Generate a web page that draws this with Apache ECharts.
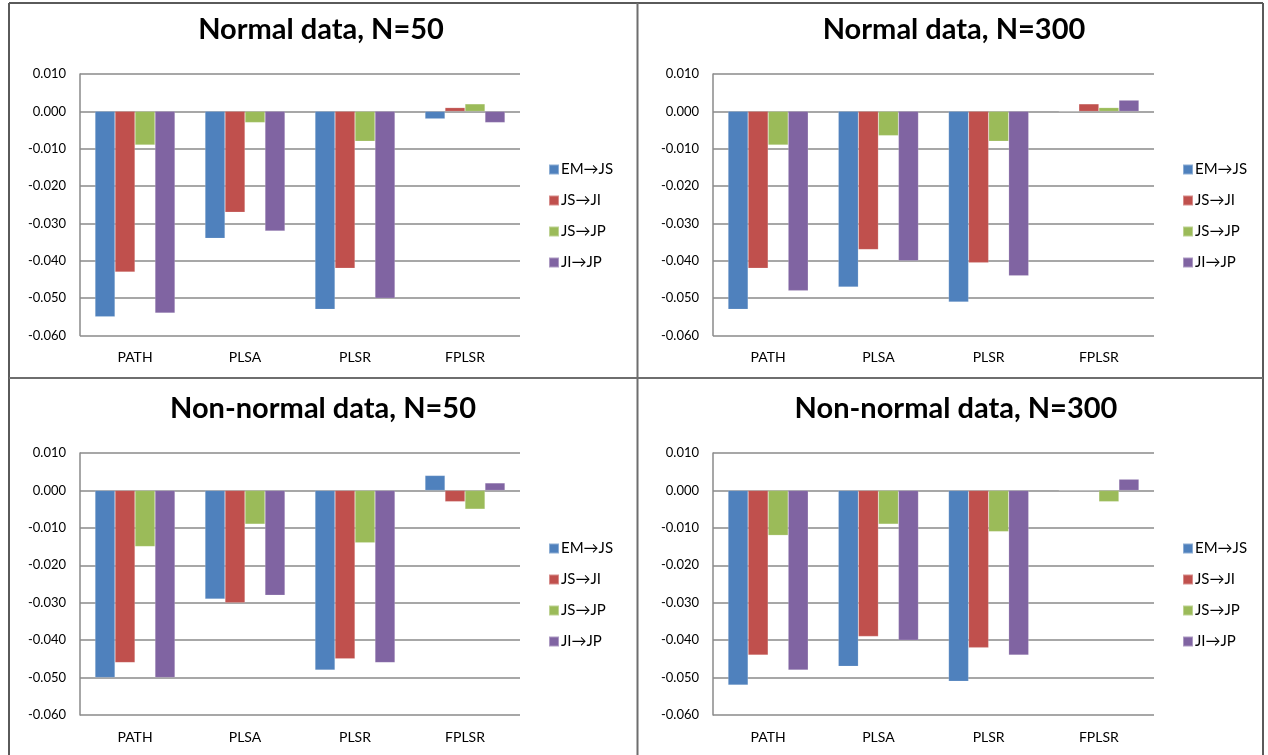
<!DOCTYPE html>
<html>
<head>
<meta charset="utf-8">
<script src="https://cdn.jsdelivr.net/npm/echarts@6/dist/echarts.min.js"></script>
<style>
html,body{margin:0;padding:0;background:#fff;}
#chart{width:1268px;height:755px;}
</style>
</head>
<body>
<div id="chart"></div>
<script>
// ---- data ----
const categories = ['PATH', 'PLSA', 'PLSR', 'FPLSR'];
const seriesNames = ['EM\u2192JS', 'JS\u2192JI', 'JS\u2192JP', 'JI\u2192JP'];
const panelTitles = ['Normal data, N=50', 'Normal data, N=300', 'Non-normal data, N=50', 'Non-normal data, N=300'];
const yTicks = [-0.060, -0.050, -0.040, -0.030, -0.020, -0.010, 0.000, 0.010];

// Normal data, N=50
const normal50_EM_JS = [-0.055, -0.034, -0.053, -0.002];
const normal50_JS_JI = [-0.043, -0.027, -0.042, 0.001];
const normal50_JS_JP = [-0.009, -0.003, -0.008, 0.002];
const normal50_JI_JP = [-0.054, -0.032, -0.050, -0.003];

// Normal data, N=300
const normal300_EM_JS = [-0.053, -0.047, -0.051, 0.000];
const normal300_JS_JI = [-0.042, -0.037, -0.0405, 0.002];
const normal300_JS_JP = [-0.009, -0.0065, -0.008, 0.001];
const normal300_JI_JP = [-0.048, -0.040, -0.044, 0.003];

// Non-normal data, N=50
const nonnormal50_EM_JS = [-0.050, -0.029, -0.048, 0.004];
const nonnormal50_JS_JI = [-0.046, -0.030, -0.045, -0.003];
const nonnormal50_JS_JP = [-0.015, -0.009, -0.014, -0.005];
const nonnormal50_JI_JP = [-0.050, -0.028, -0.046, 0.002];

// Non-normal data, N=300
const nonnormal300_EM_JS = [-0.052, -0.047, -0.051, 0.000];
const nonnormal300_JS_JI = [-0.044, -0.039, -0.042, 0.000];
const nonnormal300_JS_JP = [-0.012, -0.009, -0.011, -0.003];
const nonnormal300_JI_JP = [-0.048, -0.040, -0.044, 0.003];

const panelData = [
  [normal50_EM_JS, normal50_JS_JI, normal50_JS_JP, normal50_JI_JP],
  [normal300_EM_JS, normal300_JS_JI, normal300_JS_JP, normal300_JI_JP],
  [nonnormal50_EM_JS, nonnormal50_JS_JI, nonnormal50_JS_JP, nonnormal50_JI_JP],
  [nonnormal300_EM_JS, nonnormal300_JS_JI, nonnormal300_JS_JP, nonnormal300_JI_JP]
];

// ---- layout / style ----
const colors = ['#4F81BD', '#C0504D', '#9BBB59', '#8064A2'];
const FONT = 'Lato, "Liberation Sans", sans-serif';
const gridBoxes = [
  {left: 80, top: 74, width: 440, height: 261.5},
  {left: 713, top: 74, width: 441, height: 261.5},
  {left: 80, top: 453, width: 440, height: 262},
  {left: 713, top: 453, width: 441, height: 262}
];
const titlePos = [{x: 321, y: 15}, {x: 954, y: 15}, {x: 323, y: 394}, {x: 956, y: 394}];
const legendPos = [{x: 548, y: 161}, {x: 1182, y: 161}, {x: 548, y: 540}, {x: 1182, y: 540}];
const gridColor = '#8a8a8a';
const textColor = '#000000';

const yMin = yTicks[0], yMax = yTicks[yTicks.length - 1];

const option = {
  animation: false,
  backgroundColor: '#ffffff',
  color: colors,
  title: panelTitles.map((t, i) => ({
    text: t,
    left: titlePos[i].x,
    top: titlePos[i].y,
    textAlign: 'center',
    padding: 0,
    textStyle: {fontFamily: FONT, fontWeight: 'bold', fontSize: 29, color: '#000'}
  })),
  legend: legendPos.map(p => ({
    data: seriesNames,
    orient: 'vertical',
    left: p.x,
    top: p.y,
    padding: 0,
    itemWidth: 10,
    itemHeight: 10,
    itemGap: 14,
    icon: 'rect',
    selectedMode: false,
    textStyle: {fontFamily: FONT, fontSize: 15, color: textColor, lineHeight: 17, padding: [0, 0, 0, -3]}
  })),
  grid: gridBoxes.map(g => ({left: g.left, top: g.top, width: g.width, height: g.height, containLabel: false})),
  xAxis: gridBoxes.map((g, i) => ({
    type: 'category',
    gridIndex: i,
    data: categories,
    position: 'bottom',
    axisLine: {show: false, onZero: false},
    axisTick: {show: false},
    splitLine: {show: false},
    axisLabel: {fontFamily: FONT, fontSize: 14, color: textColor, margin: 15}
  })),
  yAxis: gridBoxes.map((g, i) => ({
    type: 'value',
    gridIndex: i,
    min: yMin,
    max: yMax,
    interval: 0.01,
    axisLine: {show: true, lineStyle: {color: gridColor, width: 1.5}},
    axisTick: {show: false},
    splitLine: {show: true, lineStyle: {color: gridColor, width: 1.5}},
    axisLabel: {
      fontFamily: FONT, fontSize: 13, color: textColor, margin: 14,
      formatter: v => (Math.abs(v) < 1e-9 ? 0 : v).toFixed(3)
    }
  })),
  series: [],
  graphic: [
    {type: 'line', shape: {x1: 9, y1: 3, x2: 1263, y2: 3}, style: {stroke: '#5a5a5a', lineWidth: 2}},
    {type: 'line', shape: {x1: 9, y1: 3, x2: 9, y2: 755}, style: {stroke: '#5a5a5a', lineWidth: 2}},
    {type: 'line', shape: {x1: 1263, y1: 3, x2: 1263, y2: 755}, style: {stroke: '#5a5a5a', lineWidth: 2}},
    {type: 'line', shape: {x1: 637.5, y1: 3, x2: 637.5, y2: 755}, style: {stroke: '#6e6e6e', lineWidth: 2}},
    {type: 'line', shape: {x1: 9, y1: 378, x2: 1263, y2: 378}, style: {stroke: '#6e6e6e', lineWidth: 2}}
  ]
};

panelData.forEach((panel, p) => {
  panel.forEach((vals, s) => {
    option.series.push({
      type: 'bar',
      name: seriesNames[s],
      xAxisIndex: p,
      yAxisIndex: p,
      data: vals,
      barGap: '0%',
      barCategoryGap: '27.3%',
      itemStyle: {color: colors[s], borderColor: 'rgba(255,255,255,0.35)', borderWidth: 0.5},
      emphasis: {disabled: true}
    });
  });
});

const chart = echarts.init(document.getElementById('chart'), null, {renderer: 'canvas'});
chart.setOption(option);
</script>
</body>
</html>
